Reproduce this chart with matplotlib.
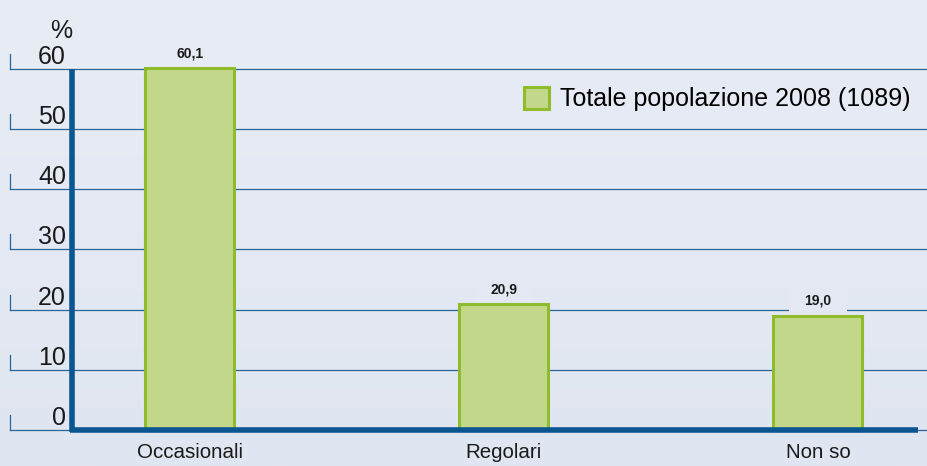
import numpy as np
import matplotlib.pyplot as plt
from matplotlib.colors import LinearSegmentedColormap
from matplotlib.transforms import blended_transform_factory

plt.rcParams['font.family'] = ['Liberation Sans', 'DejaVu Sans']

# data
categories = ['Occasionali', 'Regolari', 'Non so']
values = [60.1, 20.9, 19.0]
value_labels = ['60,1', '20,9', '19,0']
y_ticks = [0, 10, 20, 30, 40, 50, 60]
series_name = 'Totale popolazione 2008 (1089)'

grid_col = '#2b6496'
axis_col = '#0b5590'
bar_fill = '#c3d78a'
bar_edge = '#8fbc2b'
W, H = 928, 466

fig = plt.figure(figsize=(W / 100, H / 100), dpi=100)
ax = fig.add_axes([0, 0, 1, 1])
# pixel layout: category 0 at x=190, step 314 px; y=0 at 430 px, 60 at 69 px
ymin, ymax = -(H - 430) / 6.017, 60 + 69 / 6.017
ax.set_xlim(-190 / 314, (W - 190) / 314)
ax.set_ylim(ymin, ymax)
ax.axis('off')

# soft vertical gradient background
bg_cmap = LinearSegmentedColormap.from_list('bg', ['#e0e6f1', '#e8ecf5'])
fig.patch.set_facecolor(bg_cmap(0.5))
grad = np.linspace(0, 1, 256).reshape(-1, 1)
ax.imshow(grad, extent=[0, 1, 0, 1], transform=ax.transAxes, aspect='auto',
          cmap=bg_cmap, origin='lower', zorder=0)

tr = blended_transform_factory(ax.transAxes, ax.transData)
x0 = 10 / W
xa = 72.5 / W
tick_h = 15 / 6.017

# gridlines, small tick marks and y labels
for v in y_ticks:
    ax.plot([x0, 1], [v, v], color=grid_col, lw=0.9, transform=tr, zorder=1)
    ax.plot([x0, x0], [v, v + tick_h], color=grid_col, lw=0.9, transform=tr, zorder=1)
    ax.text(66 / W, v + 0.85, str(v), ha='right', va='baseline', fontsize=18,
            color='#1a1a1a', transform=tr, zorder=4)
ax.text(72 / W, 65.2, '%', ha='right', va='baseline', fontsize=18,
        color='#1a1a1a', transform=tr)

# bars
x = np.arange(len(categories))
ax.bar(x, values, width=89 / 314, color=bar_fill, edgecolor=bar_edge,
       linewidth=2.2, zorder=3)
for xi, v, lab in zip(x, values, value_labels):
    ly = v + 2.5
    ax.text(xi, ly, lab, ha='center', va='center', fontsize=10,
            fontweight='bold', color='#1a1a1a', zorder=2,
            bbox=dict(facecolor=bg_cmap((ly - ymin) / (ymax - ymin)),
                      edgecolor='none', boxstyle='square,pad=1.1'))

# thick axis lines
ax.plot([xa, xa], [-0.4, 60], color=axis_col, lw=4.0, transform=tr,
        zorder=5, solid_capstyle='butt')
ax.plot([xa - 2.5 / W, 918 / W], [0, 0], color=axis_col, lw=4.0,
        transform=tr, zorder=5, solid_capstyle='butt')

# category labels
for xi, c in zip(x, categories):
    ax.text(xi, -3.75, c, ha='center', va='center', fontsize=14.8,
            color='#1a1a1a')

# legend
ax.bar([0], [0], width=0, color=bar_fill, edgecolor=bar_edge, linewidth=2.2,
       label=series_name)
ax.legend(loc='center left', bbox_to_anchor=(524 / W, 1 - 99 / H),
          bbox_transform=fig.transFigure, frameon=False, fontsize=18,
          handlelength=1.0, handleheight=1.0, handletextpad=0.45,
          borderaxespad=0, borderpad=0)

fig.savefig('out.png', dpi=100, facecolor=fig.get_facecolor())
